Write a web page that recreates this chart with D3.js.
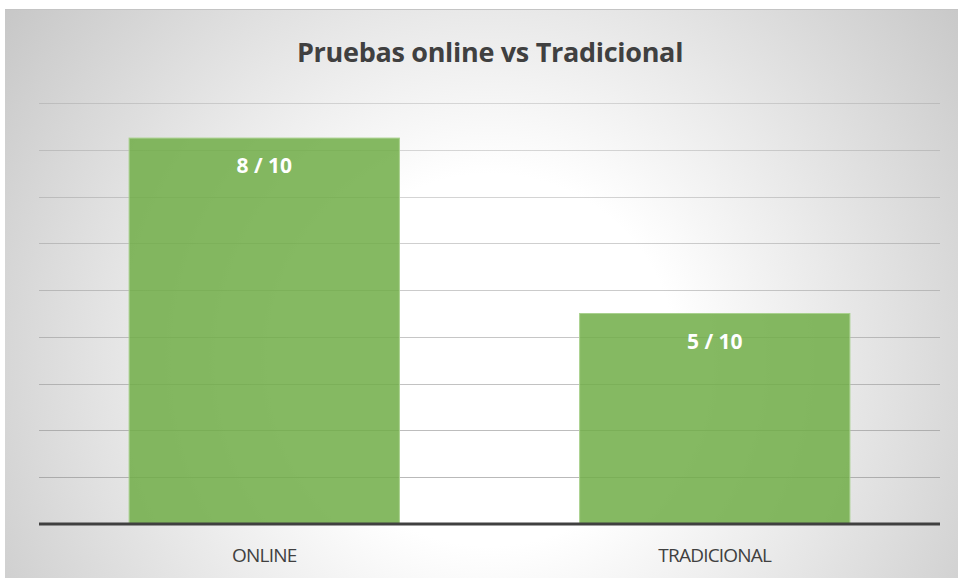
<!DOCTYPE html>
<html>
<head>
<meta charset="utf-8">
<script src="https://cdn.jsdelivr.net/npm/d3@7"></script>
<style>
  html, body { margin: 0; padding: 0; background: #ffffff; }
  #chart-container { width: 958px; height: 578px; }
</style>
</head>
<body>
<div id="chart-container"></div>
<script>
const categories = ["ONLINE", "TRADICIONAL"];
const values = [8.25, 4.5];
const barLabels = ["8 / 10", "5 / 10"];
const yTicks = [0, 1, 2, 3, 4, 5, 6, 7, 8, 9];
const chartTitle = "Pruebas online vs Tradicional";

const W = 958, H = 578;
const margin = { top: 103, right: 18, bottom: 54, left: 39 };
const width = W - margin.left - margin.right;
const height = H - margin.top - margin.bottom;

const root = d3.select("#chart-container")
  .append("svg")
  .attr("width", W)
  .attr("height", H);

// radial fill of the chart area, white in the middle, gray to the corners
const defs = root.append("defs");
const grad = defs.append("radialGradient")
  .attr("id", "bg")
  .attr("gradientUnits", "userSpaceOnUse")
  .attr("cx", 490).attr("cy", 360)
  .attr("r", 620);
grad.append("stop").attr("offset", "0%").attr("stop-color", "#ffffff");
grad.append("stop").attr("offset", "30%").attr("stop-color", "#ffffff");
grad.append("stop").attr("offset", "100%").attr("stop-color", "#c4c4c4");

root.append("rect")
  .attr("x", 5).attr("y", 9)
  .attr("width", W - 5).attr("height", H - 9)
  .attr("fill", "url(#bg)");
root.append("line")
  .attr("x1", 5).attr("x2", W).attr("y1", 9.5).attr("y2", 9.5)
  .attr("stroke", "#c4c4c4").attr("stroke-width", 1);

root.append("text")
  .attr("x", 490).attr("y", 62)
  .attr("text-anchor", "middle")
  .style("font-family", "'Open Sans', 'Noto Sans', sans-serif")
  .style("font-weight", "bold")
  .style("font-size", "27px")
  .style("letter-spacing", "-0.3px")
  .attr("fill", "#404040")
  .text(chartTitle);

const svg = root.append("g")
  .attr("transform", `translate(${margin.left},${margin.top})`);

const x = d3.scaleBand().domain(categories).range([0, width]).paddingInner(0.4).paddingOuter(0.2);
const y = d3.scaleLinear().domain([0, 9]).range([height, 0]);

// gridlines
svg.append("g")
  .selectAll("line")
  .data(yTicks.slice(1))
  .join("line")
  .attr("x1", 0).attr("x2", width)
  .attr("y1", d => Math.round(y(d)) + 0.5)
  .attr("y2", d => Math.round(y(d)) + 0.5)
  .attr("stroke", "#8c8c8c")
  .attr("stroke-opacity", d => 0.3 + 0.35 * (1 - d / 9))
  .attr("stroke-width", 1);

// bars
svg.append("g")
  .selectAll("rect")
  .data(values)
  .join("rect")
  .attr("x", (d, i) => x(categories[i]))
  .attr("y", d => y(d))
  .attr("width", x.bandwidth())
  .attr("height", d => height - y(d))
  .attr("fill", "#70ad47")
  .attr("fill-opacity", 0.85)
  .attr("stroke", "#a9d18e")
  .attr("stroke-width", 1);

// bar labels
svg.append("g")
  .selectAll("text")
  .data(values)
  .join("text")
  .attr("x", (d, i) => x(categories[i]) + x.bandwidth() / 2)
  .attr("y", d => y(d) + 35)
  .attr("text-anchor", "middle")
  .style("font-family", "'Open Sans', 'Noto Sans', sans-serif")
  .style("font-weight", "bold")
  .style("font-size", "21px")
  .attr("fill", "#ffffff")
  .text((d, i) => barLabels[i]);

// x axis
const xAxis = svg.append("g")
  .attr("transform", `translate(0,${height})`)
  .call(d3.axisBottom(x).tickSize(0).tickPadding(25));
xAxis.select(".domain").remove();
xAxis.selectAll("text")
  .style("font-family", "'Open Sans', 'Noto Sans', sans-serif")
  .style("font-size", "19px")
  .style("letter-spacing", "-0.8px")
  .attr("fill", "#404040");

svg.append("line")
  .attr("x1", 0).attr("x2", width)
  .attr("y1", y(0)).attr("y2", y(0))
  .attr("stroke", "#404040")
  .attr("stroke-width", 3);
</script>
</body>
</html>
